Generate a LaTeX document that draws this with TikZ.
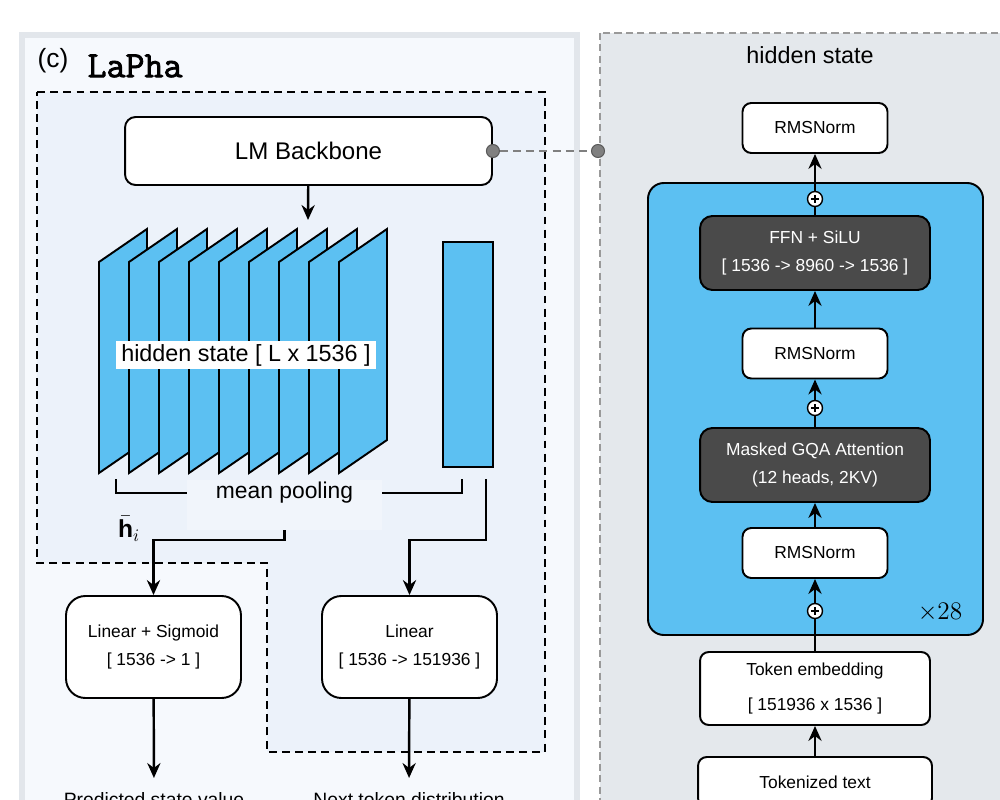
\documentclass[tikz,border=0pt]{standalone}
\usepackage{fontspec}
\setmainfont{Liberation Sans}
\newfontfamily\laphafont[FakeBold=2.2]{Latin Modern Mono}
\usepackage{amsmath,amssymb}
\usepackage{xcolor}
\usepackage{tikz}
\usetikzlibrary{positioning,arrows.meta,calc}
\definecolor{layerblue}{RGB}{92,192,242}
\definecolor{darkbox}{RGB}{74,74,74}
\definecolor{panelgray}{RGB}{228,232,236}
\definecolor{panelline}{RGB}{226,230,235}
\definecolor{panelfill}{RGB}{246,249,253}
\definecolor{regionfill}{RGB}{236,242,250}
\definecolor{tapgray}{RGB}{128,128,128}

\begin{document}
\begin{tikzpicture}[x=0.02cm, y=-0.02cm,
  box/.style={draw, line width=1.1pt, fill=white, rounded corners=5pt, align=center, inner sep=0pt, font=\fontsize{9.9}{12}\selectfont},
  normbox/.style={box, minimum width=2.9cm, minimum height=1cm},
  dark/.style={box, fill=darkbox, text=white, minimum width=4.6cm, minimum height=1.48cm, rounded corners=7pt},
  headbox/.style={box, minimum width=3.5cm, minimum height=2.04cm, rounded corners=11pt},
  layer/.style={draw, line width=1.1pt, fill=layerblue},
  arr/.style={-{Stealth[length=8.5pt,width=7.5pt]}, line width=1.4pt},
  plus/.style={circle, draw, fill=white, minimum size=0.3cm, inner sep=0pt, line width=0.8pt,
    path picture={\draw[line width=0.6pt] ([xshift=-2.2pt]path picture bounding box.center) -- ([xshift=2.2pt]path picture bounding box.center)
      ([yshift=-2.2pt]path picture bounding box.center) -- ([yshift=2.2pt]path picture bounding box.center);}},
  tapdot/.style={circle, fill=tapgray, draw=tapgray!70!black, line width=0.6pt, minimum size=0.26cm, inner sep=0pt},
  big/.style={font=\fontsize{13.3}{16}\selectfont},
  outtext/.style={anchor=north, inner ysep=8pt, font=\fontsize{11}{13}\selectfont}
]
  \useasboundingbox (0,0) rectangle (1000,800);
  \fill[white] (0,0) rectangle (1000,800);
  \draw[draw=panelline, line width=3pt, fill=panelfill] (22,35) rectangle (577,830);
  \draw[draw=gray!80, dash pattern=on 4pt off 2.5pt, line width=1.1pt, fill=panelgray] (600,33) rectangle (1030,830);
  \draw[dash pattern=on 4.5pt off 3pt, line width=1.4pt, fill=regionfill] (37,92) -- (545,92) -- (545,752) -- (267,752) -- (267,563) -- (37,563) -- cycle;

  \node[font=\fontsize{15}{17}\selectfont] at (53,61) {(c)};
  \node[font=\fontsize{21}{23}\selectfont\laphafont] at (135,66) {LaPha};
  \node[big] at (810,55) {hidden state};

  \node (lm) [box, minimum width=7.34cm, minimum height=1.36cm, rounded corners=6pt, font=\fontsize{13.7}{16}\selectfont] at (308.5,151) {LM Backbone};
  \coordinate (stacktop) at (308,220);
  \draw[arr] (lm) -- (stacktop);

  \foreach \i in {0,...,8}
    \draw[layer] ({99+30*\i},262) -- ++(48,-33) -- ++(0,211) -- ++(-48,33) -- cycle;
  \node (hs) [big, fill=white, inner xsep=3pt, inner ysep=2pt] at (246,355) {hidden state [ L x 1536 ]};
  \node (last) [layer, minimum width=1cm, minimum height=4.5cm, inner sep=0pt] at (468,354.5) {};

  \draw[line width=1.4pt] (116,479) -- (116,493) -- (462,493) -- (462,479);
  \node (pool) [fill=regionfill!75!white, minimum width=3.9cm, inner sep=0pt, text height=10.75pt, text depth=17.6pt, font=\fontsize{13}{16}\selectfont] at (284.5,505) {mean pooling};
  \coordinate (lastout) at (486,479);

  \node (sig) [headbox] at (153.5,647) {Linear + Sigmoid\\[4pt]{[} 1536 -> 1 ]};
  \node (lin) [headbox] at (409.5,647) {Linear\\[4pt]{[} 1536 -> 151936 ]};
  \draw[arr] (pool.south) -- ++(0,10) -| (sig.north);
  \draw[arr] (lastout) -- ++(0,61) -| (lin.north);
  \node[font=\fontsize{14}{16}\selectfont] at (129,529) {$\bar{\mathbf{h}}_i$};

  \node (pred) [outtext] at (154,778) {Predicted state value};
  \node (next) [outtext] at (409,778) {Next token distribution};
  \draw[arr] (sig) -- (pred);
  \draw[arr] (lin) -- (next);

  \node (tapL) [tapdot] at (lm.east) {};
  \node (tapR) [tapdot] at (598,151) {};
  \draw[tapgray, dash pattern=on 4.5pt off 3pt, line width=1.2pt] (tapL) -- (tapR);

  \draw[line width=1.1pt, rounded corners=9pt, fill=layerblue] (648,183) rectangle (983,635);
  \node (normout) [normbox] at (815,128) {RMSNorm};
  \node (ffn) [dark] at (815,253) {FFN + SiLU\\[3.5pt]{[} 1536 -> 8960 -> 1536 ]};
  \node (norm2) [normbox] at (815,353.5) {RMSNorm};
  \node (attn) [dark] at (815,465) {Masked GQA Attention\\[3.5pt](12 heads, 2KV)};
  \node (norm1) [normbox] at (815,553) {RMSNorm};
  \node (embed) [box, minimum width=4.6cm, minimum height=1.46cm] at (815,688.5) {Token embedding\\[8pt]{[} 151936 x 1536 ]};
  \node (tokin) [box, minimum width=4.68cm, minimum height=1cm] at (815,782) {Tokenized text};
  \node (p1) [plus] at (815,611) {};
  \node (p2) [plus] at (815,408) {};
  \node (p3) [plus] at (815,199) {};
  \draw[arr] (tokin) -- (embed);
  \draw[line width=1.4pt] (embed) -- (p1);
  \draw[arr] (p1) -- (norm1);
  \draw[arr] (norm1) -- (attn);
  \draw[line width=1.4pt] (attn) -- (p2);
  \draw[arr] (p2) -- (norm2);
  \draw[arr] (norm2) -- (ffn);
  \draw[line width=1.4pt] (ffn) -- (p3);
  \draw[arr] (p3) -- (normout);
  \node[font=\fontsize{14}{16}\selectfont] at (940,612) {$\times 28$};
\end{tikzpicture}
\end{document}
